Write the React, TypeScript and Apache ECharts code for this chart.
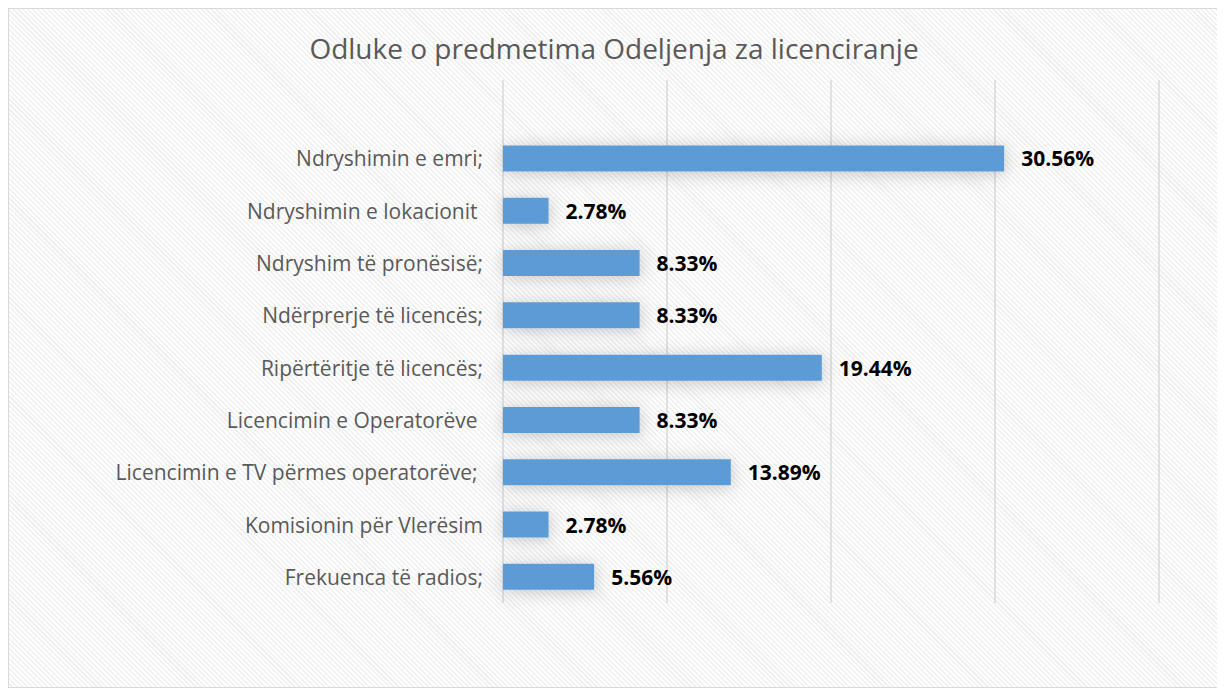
import React, { useEffect, useRef } from "react";
import * as echarts from "echarts";

const titleText = "Odluke o predmetima Odeljenja za licenciranje";
const categories = [
  "",
  "Ndryshimin e emri;",
  "Ndryshimin e lokacionit ",
  "Ndryshim të pronësisë;",
  "Ndërprerje të licencës;",
  "Ripërtëritje të licencës;",
  "Licencimin e Operatorëve ",
  "Licencimin e TV përmes operatorëve; ",
  "Komisionin për Vlerësim",
  "Frekuenca të radios;",
];
const values: (number | null)[] = [null, 30.56, 2.78, 8.33, 8.33, 19.44, 8.33, 13.89, 2.78, 5.56];
const axisMin = 0;
const axisMax = 40;
const axisStep = 10;

export default function App() {
  const ref = useRef<HTMLDivElement>(null);
  useEffect(() => {
    if (!ref.current) return;
    const chart = echarts.init(ref.current, null, { renderer: "svg" });
    chart.setOption({
      animation: false,
      backgroundColor: "transparent",
      title: {
        text: titleText,
        left: "center",
        top: 20,
        textStyle: {
          fontFamily: "Open Sans",
          fontWeight: "normal",
          fontSize: 28,
          color: "#595959",
        },
      },
      grid: { left: 494, right: 60, top: 71, bottom: 84 },
      xAxis: {
        type: "value",
        min: axisMin,
        max: axisMax,
        interval: axisStep,
        axisLabel: { show: false },
        axisLine: { show: false },
        axisTick: { show: false },
        splitLine: { lineStyle: { color: "#d9d9d9", width: 1.5 } },
      },
      yAxis: {
        type: "category",
        inverse: true,
        data: categories,
        axisLine: { show: false },
        axisTick: { show: false },
        axisLabel: {
          margin: 20,
          color: "#595959",
          fontFamily: "Open Sans",
          fontSize: 21,
        },
      },
      series: [
        {
          type: "bar",
          data: values,
          barWidth: 26,
          itemStyle: {
            color: "#5b9bd5",
            shadowBlur: 18,
            shadowColor: "rgba(0,0,0,0.22)",
            shadowOffsetX: 1,
            shadowOffsetY: 2,
          },
          label: {
            show: true,
            position: "right",
            distance: 17,
            formatter: (p: any) => (p.value == null ? "" : Number(p.value).toFixed(2) + "%"),
            fontFamily: "Open Sans",
            fontWeight: "bold",
            fontSize: 21,
            color: "#000000",
          },
        },
      ],
    });
    return () => chart.dispose();
  }, []);
  return (
    <div
      style={{
        position: "relative",
        width: 1212,
        height: 680,
        boxSizing: "border-box",
        border: "1px solid #d9d9d9",
        boxShadow: "2px 0 3px rgba(0,0,0,0.3)",
        background:
          "repeating-linear-gradient(45deg, #ffffff 0px, #ffffff 2px, #f0f0f0 2px, #f0f0f0 3.5px)",
      }}
    >
      <div ref={ref} style={{ position: "absolute", left: 0, top: 0, width: 1210, height: 678 }} />
    </div>
  );
}
